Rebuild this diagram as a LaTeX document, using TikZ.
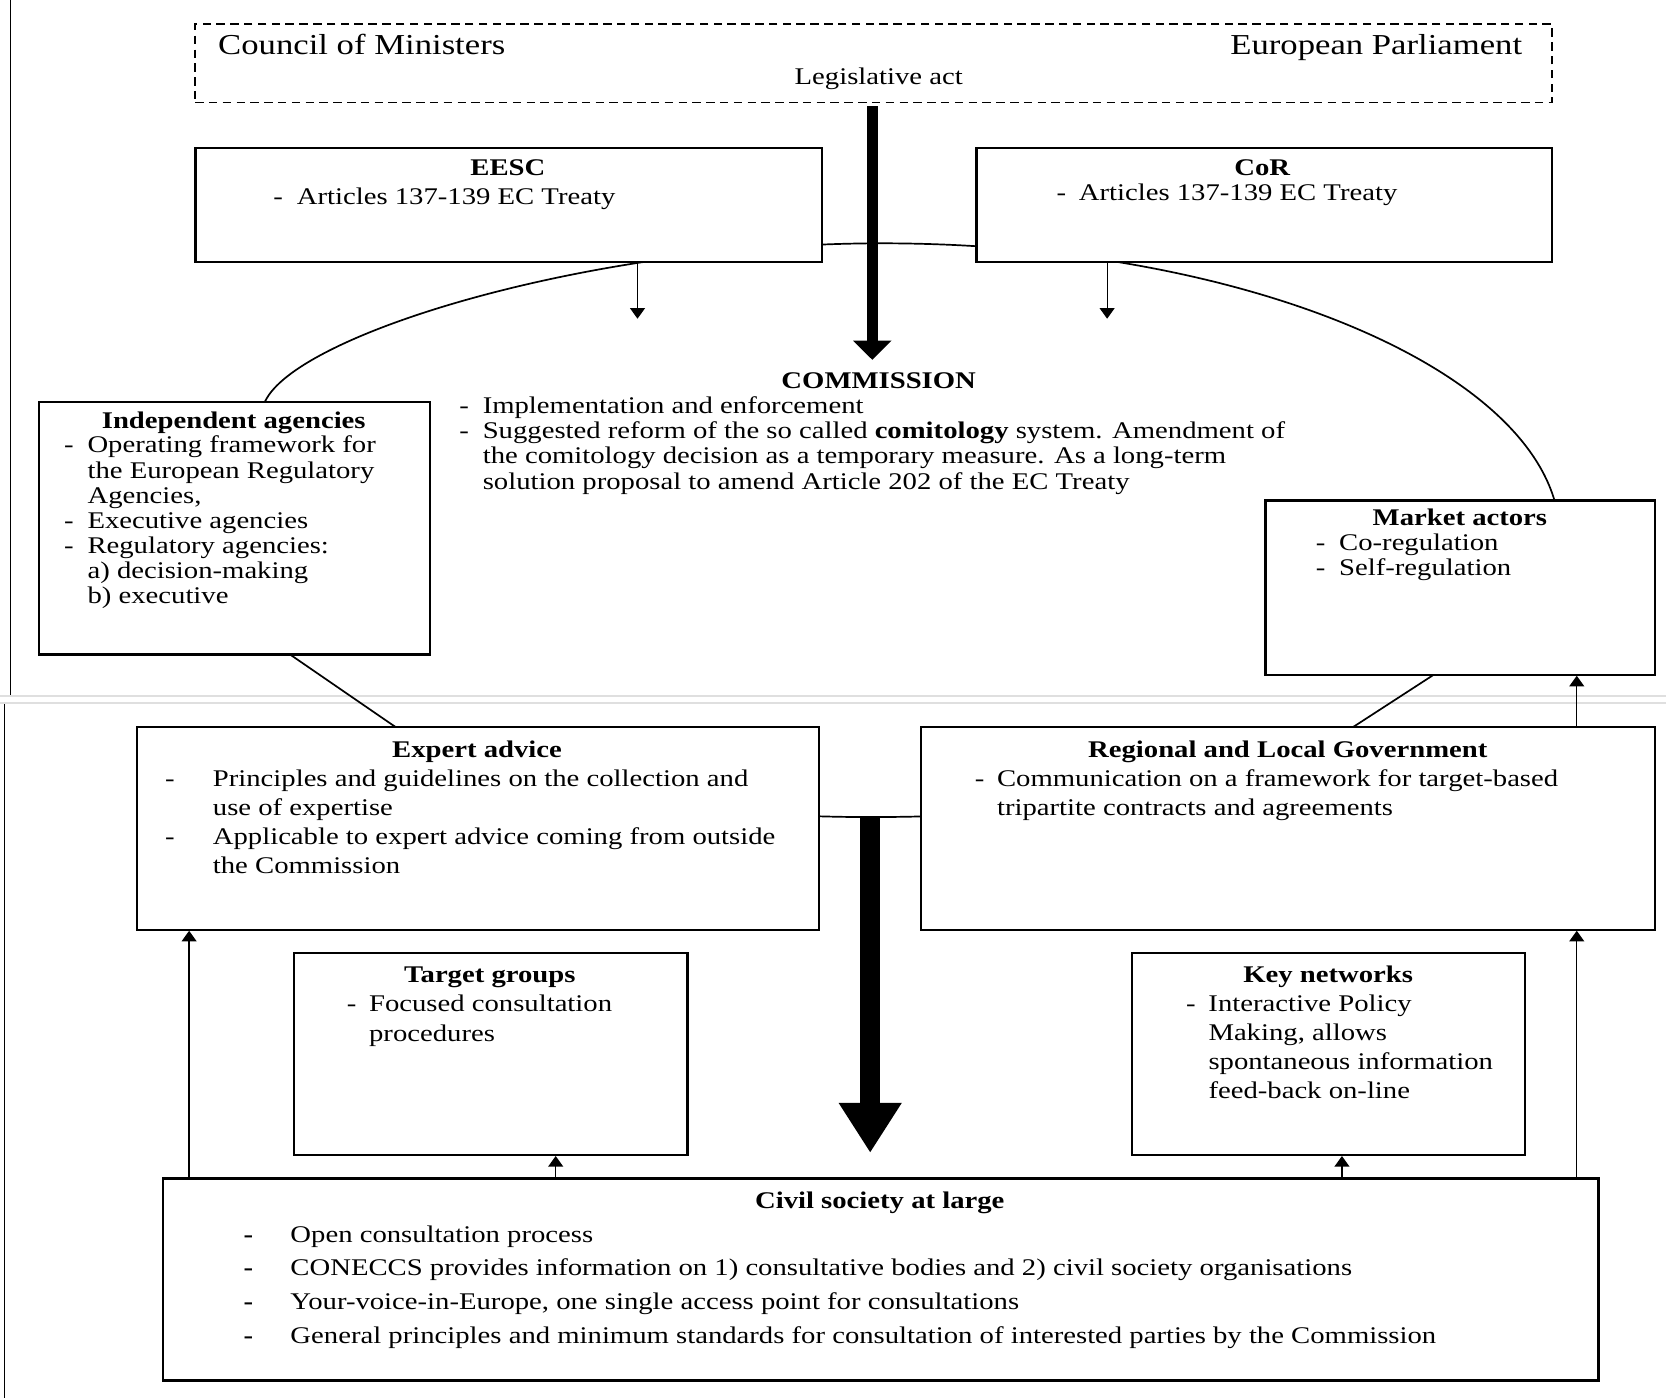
\documentclass[tikz,border=0pt]{standalone}
\usepackage{fontspec}
\setmainfont{Liberation Serif}[FakeStretch=1.2]
\usetikzlibrary{arrows.meta}
\newcommand{\lidash}[1][11pt]{\makebox[#1][l]{-}}
\newcommand{\liskip}[1][11pt]{\hspace*{#1}}
\tikzset{
  box/.style={draw, line width=1pt, fill=white, anchor=north west, inner sep=0pt},
  ttl/.style={anchor=base, inner sep=0pt, font=\fontsize{11.25pt}{12pt}\selectfont\bfseries},
  txt/.style={anchor=north west, align=left, inner sep=0pt, font=\fontsize{11.25pt}{#1}\selectfont},
  txt/.default=11.85pt,
  tip/.style={-{Triangle[width=7pt,length=5pt]}, line width=0.6pt},
}
\begin{document}
\begin{tikzpicture}[x=0.5pt, y=-0.5pt]
\useasboundingbox (0,0) rectangle (1568,1316);
\draw[gray!25, line width=1pt] (0,655) -- (1568,655) (0,662) -- (1568,662);
\draw[line width=0.6pt] (10,0) -- (10,654) (4,663) -- (4,1316);

\draw[line width=0.8pt] (830,229) .. controls (1180,229) and (1468,355) .. (1468,505)
  .. controls (1468,580) and (1400,600) .. (1351,634) -- (1277,682)
  .. controls (1180,745) and (1000,769) .. (818,769)
  .. controls (620,769) and (440,731) .. (369,682) -- (273,616)
  .. controls (210,573) and (225,420) .. (251,375)
  .. controls (287,312) and (560,229) .. (830,229) -- cycle;

\node[box, line width=0.6pt, dash pattern=on 4pt off 2.5pt, minimum width=638.5pt, minimum height=37pt] (council) at (183,22) {};
\node[anchor=base west, inner sep=0pt, font=\fontsize{13.6pt}{15pt}\selectfont] (cm) at (205,51) {Council of Ministers};
\node[anchor=base east, inner sep=0pt, font=\fontsize{13.6pt}{15pt}\selectfont] (ep) at (1433,51) {European Parliament};
\node[anchor=base, inner sep=0pt, font=\fontsize{11.25pt}{12pt}\selectfont] (legact) at (827,80) {Legislative act};

\node[box, minimum width=295pt, minimum height=54pt] (eesc) at (183,138) {};
\node[ttl] (eesc-t) at (478,165) {EESC};
\node[txt] (eesc-l) at (257,176) {\lidash Articles 137-139 EC Treaty};

\node[box, minimum width=271pt, minimum height=54pt] (cor) at (918,138) {};
\node[ttl] (cor-t) at (1188,165) {CoR};
\node[txt] (cor-l) at (994,173) {\lidash[10.5pt]Articles 137-139 EC Treaty};

\node[ttl] (comm-t) at (827,366) {COMMISSION};
\node[txt] (comm-l) at (432,373) {\lidash Implementation and enforcement\\
  \lidash Suggested reform of the so called \textbf{comitology} system. Amendment of\\
  \liskip the comitology decision as a temporary measure. As a long-term\\
  \liskip solution proposal to amend Article 202 of the EC Treaty};

\node[box, minimum width=184pt, minimum height=119pt] (indep) at (36,377) {};
\node[ttl] (indep-t) at (220,403) {Independent agencies};
\node[txt] (indep-l) at (60,410) {\lidash Operating framework for\\
  \liskip the European Regulatory\\
  \liskip Agencies,\\
  \lidash Executive agencies\\
  \lidash Regulatory agencies:\\
  \liskip a) decision-making\\
  \liskip b) executive};

\node[box, minimum width=183.5pt, minimum height=82pt] (market) at (1190,470) {};
\node[ttl] (market-t) at (1374,495) {Market actors};
\node[txt=12pt] (market-l) at (1238,502) {\lidash Co-regulation\\ \lidash Self-regulation};

\node[box, minimum width=321pt, minimum height=95.5pt] (expert) at (128,683) {};
\node[ttl] (expert-t) at (449,713) {Expert advice};
\node[txt=13.65pt] (expert-l) at (155,724) {\lidash[22.5pt]Principles and guidelines on the collection and\\
  \liskip[22.5pt]use of expertise\\
  \lidash[22.5pt]Applicable to expert advice coming from outside\\
  \liskip[22.5pt]the Commission};

\node[box, minimum width=345.5pt, minimum height=95.5pt] (regional) at (866,683) {};
\node[ttl] (regional-t) at (1212,713) {Regional and Local Government};
\node[txt=13.5pt] (regional-l) at (917,724) {\lidash[10.5pt]Communication on a framework for target-based\\
  \liskip[10.5pt]tripartite contracts and agreements};

\node[box, minimum width=185pt, minimum height=95pt] (target) at (276,896) {};
\node[ttl] (target-t) at (461,925) {Target groups};
\node[txt=14pt] (target-l) at (326,936) {\lidash[10.5pt]Focused consultation\\
  \liskip[10.5pt]procedures};

\node[box, minimum width=185pt, minimum height=95pt] (keynet) at (1064,896) {};
\node[ttl] (keynet-t) at (1250,925) {Key networks};
\node[txt=13.65pt] (keynet-l) at (1116,936) {\lidash[10.5pt]Interactive Policy\\
  \liskip[10.5pt]Making, allows\\
  \liskip[10.5pt]spontaneous information\\
  \liskip[10.5pt]feed-back on-line};

\node[box, line width=1.3pt, minimum width=675.5pt, minimum height=95pt] (civil) at (152,1108) {};
\node[ttl] (civil-t) at (828,1137) {Civil society at large};
\node[txt=15.85pt] (civil-l) at (229,1153) {\makebox[22pt][l]{\textbf{-}}Open consultation process\\
  \makebox[22pt][l]{\textbf{-}}CONECCS provides information on 1) consultative bodies and 2) civil society organisations\\
  \makebox[22pt][l]{\textbf{-}}Your-voice-in-Europe, one single access point for consultations\\
  \makebox[22pt][l]{\textbf{-}}General principles and minimum standards for consultation of interested parties by the Commission};

\coordinate (legtop) at (821,100);
\draw[line width=5pt, -{Triangle[width=17.5pt,length=9pt]}, shorten >=6pt] (legtop) -- (legtop |- comm-t.north);
\coordinate (advtop) at (819,768);
\draw[line width=9.5pt, -{Triangle[width=28pt,length=23.5pt]}, shorten >=11.5pt] (advtop) -- (advtop |- civil.north);

\coordinate (eescin) at (600,300);
\draw[tip] (eesc.south -| eescin) -- (eescin);
\coordinate (corin) at (1042,300);
\draw[tip] (cor.south -| corin) -- (corin);

\coordinate (upl) at (178,1000);
\draw[tip] (civil.north -| upl) -- (expert.south -| upl);
\coordinate (upt) at (523,1000);
\draw[tip] (civil.north -| upt) -- (target.south -| upt);
\coordinate (upk) at (1263,1000);
\draw[tip] (civil.north -| upk) -- (keynet.south -| upk);
\coordinate (upr) at (1484,1000);
\draw[tip] (civil.north -| upr) -- (regional.south -| upr);
\draw[tip] (regional.north -| upr) -- (market.south -| upr);
\end{tikzpicture}
\end{document}
